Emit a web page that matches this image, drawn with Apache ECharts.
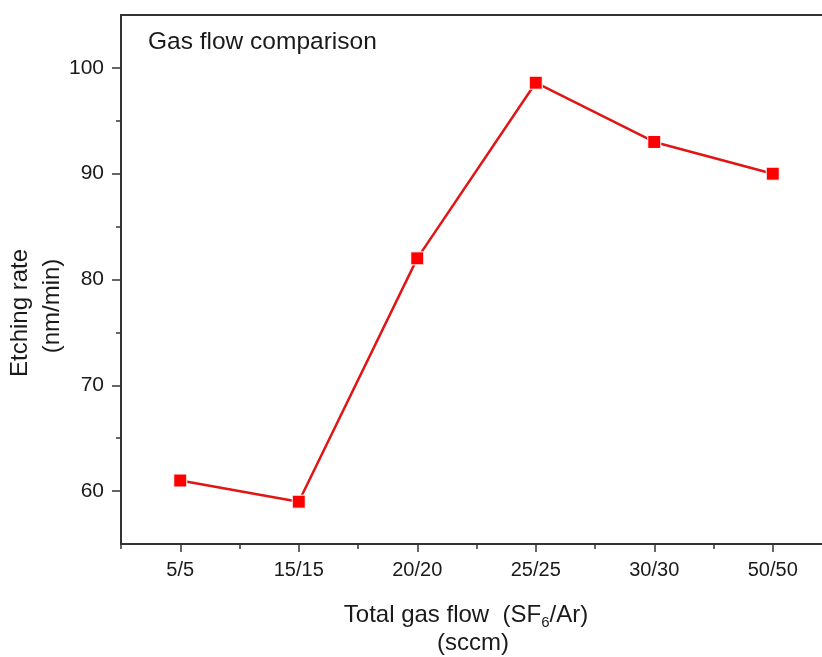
<!DOCTYPE html>
<html>
<head>
<meta charset="utf-8">
<script src="https://cdn.jsdelivr.net/npm/echarts@6/dist/echarts.min.js"></script>
<style>html,body{margin:0;padding:0;background:#fff;}#c{width:822px;height:657px;}</style>
</head>
<body>
<div id="c"></div>
<script>
const categories = ['5/5', '15/15', '20/20', '25/25', '30/30', '50/50'];
const etchingRate = [61, 59, 82, 98.6, 93, 90];
const yMajorTicks = [60, 70, 80, 90, 100];
const yMinorTicks = [65, 75, 85, 95];

const FONT = '"Liberation Sans", Arial, sans-serif';
const AX = '#333333';
const TXT = '#1a1a1a';

const chart = echarts.init(document.getElementById('c'), null, {renderer: 'canvas'});
chart.setOption({
  backgroundColor: '#ffffff',
  animation: false,
  grid: {left: 121, top: 15, width: 711, height: 529, containLabel: false, outerBoundsMode: 'none'},
  xAxis: [
    {
      type: 'category', data: categories, position: 'bottom', boundaryGap: true,
      axisLine: {show: true, lineStyle: {color: AX, width: 2}},
      axisTick: {show: true, alignWithLabel: true, length: 8, lineStyle: {color: AX, width: 1.5}},
      axisLabel: {fontSize: 20, color: TXT, fontFamily: FONT, margin: 16},
      splitLine: {show: false}
    },
    {
      type: 'category', data: categories, position: 'bottom', boundaryGap: true,
      axisLine: {show: false},
      axisTick: {show: true, length: 5, lineStyle: {color: AX, width: 1.5}},
      axisLabel: {show: false},
      splitLine: {show: false}
    },
    {
      type: 'category', data: categories, position: 'top', boundaryGap: true,
      axisLine: {show: true, lineStyle: {color: AX, width: 2}},
      axisTick: {show: false},
      axisLabel: {show: false},
      splitLine: {show: false}
    }
  ],
  yAxis: [
    {
      type: 'value', min: 55, max: 105, position: 'left',
      axisLine: {show: true, lineStyle: {color: AX, width: 2}},
      axisTick: {show: true, customValues: yMajorTicks, length: 9, lineStyle: {color: AX, width: 1.5}},
      axisLabel: {customValues: yMajorTicks, fontSize: 21, color: TXT, fontFamily: FONT, margin: 17},
      splitLine: {show: false}
    },
    {
      type: 'value', min: 55, max: 105, position: 'left',
      axisLine: {show: false},
      axisTick: {show: true, customValues: yMinorTicks, length: 5, lineStyle: {color: AX, width: 1.5}},
      axisLabel: {show: false},
      splitLine: {show: false}
    }
  ],
  series: [{
    type: 'line', data: etchingRate, xAxisIndex: 0, yAxisIndex: 0,
    symbol: 'rect', symbolSize: 13, showAllSymbol: true,
    itemStyle: {color: '#ff0000', borderColor: '#ffffff', borderWidth: 1},
    lineStyle: {color: '#e01515', width: 2.5},
    z: 5
  }],
  graphic: [
    {type: 'text', left: 148, top: 30, style: {text: 'Gas flow comparison', font: '24.5px ' + FONT, fill: TXT}},
    {type: 'text', x: 20, y: 313, rotation: Math.PI / 2,
      style: {text: 'Etching rate', font: '24px ' + FONT, fill: TXT, textAlign: 'center', textVerticalAlign: 'middle'}},
    {type: 'text', x: 52, y: 306, rotation: Math.PI / 2,
      style: {text: '(nm/min)', font: '24px ' + FONT, fill: TXT, textAlign: 'center', textVerticalAlign: 'middle'}},
    {type: 'text', x: 466, y: 615,
      style: {text: '{a|Total gas flow  (SF}{b|6}{a|/Ar)}', fill: TXT, textAlign: 'center', textVerticalAlign: 'middle',
        rich: {
          a: {fontSize: 24, fontFamily: FONT, color: TXT, lineHeight: 30, verticalAlign: 'middle'},
          b: {fontSize: 15, fontFamily: FONT, color: TXT, lineHeight: 30, verticalAlign: 'bottom', padding: [14, 0, 0, 0]}
        }}},
    {type: 'text', x: 473, y: 643,
      style: {text: '(sccm)', font: '24px ' + FONT, fill: TXT, textAlign: 'center', textVerticalAlign: 'middle'}}
  ]
});
</script>
</body>
</html>
